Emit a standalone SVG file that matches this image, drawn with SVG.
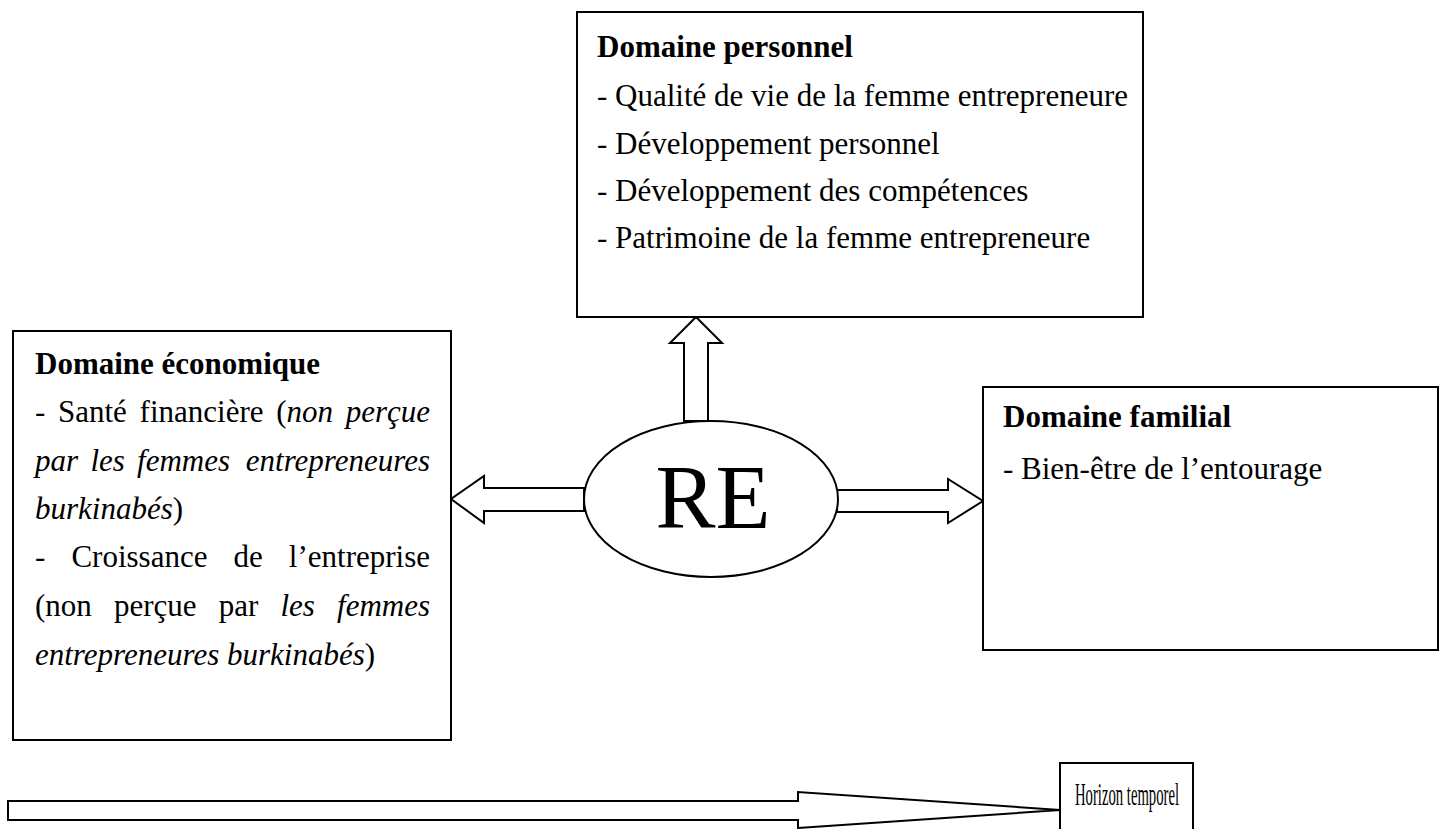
<svg xmlns="http://www.w3.org/2000/svg" width="1440" height="829" viewBox="0 0 1440 829">
<style>
  .box { fill: #fff; stroke: #000; stroke-width: 2; }
  .arr { fill: #fff; stroke: #000; stroke-width: 2; stroke-linejoin: miter; }
  text { font-family: "Liberation Serif", "Times New Roman", serif; font-size: 31px; fill: #000; }
  .b { font-weight: bold; }
  .i { font-style: italic; }
</style>
<rect width="1440" height="829" fill="#fff"/>
<g id="connectors">
  <polygon class="arr" points="684,421 684,343 670,343 696,317 722,343 708,343 708,421"/>
  <polygon class="arr" points="584,488 484,488 484,476 451,499 484,523 484,511 584,511"/>
  <polygon class="arr" points="837,490 948,490 948,479 983,501 948,523 948,512 837,512"/>
  <polygon class="arr" points="8,801 798,801 798,792 1060,810 798,828 798,820 8,820"/>
</g>
<g id="personnel">
  <rect class="box" x="577" y="12" width="566" height="305"/>
  <text class="b" x="597" y="57">Domaine personnel</text>
  <text x="597" y="106">- Qualité de vie de la femme entrepreneure</text>
  <text x="597" y="154">- Développement personnel</text>
  <text x="597" y="201">- Développement des compétences</text>
  <text x="597" y="248">- Patrimoine de la femme entrepreneure</text>
</g>
<g id="economique">
  <rect class="box" x="13" y="331" width="438" height="409"/>
  <text class="b" x="35" y="374">Domaine économique</text>
  <text y="422"><tspan x="35">-</tspan><tspan x="58">Santé</tspan><tspan x="139.6">financière</tspan><tspan x="276.2">(</tspan><tspan class="i">non</tspan></text>
  <text class="i" x="430" y="422" text-anchor="end">perçue</text>
  <text class="i" y="471"><tspan x="35">par</tspan><tspan x="90.4">les</tspan><tspan x="137.1">femmes</tspan></text>
  <text class="i" x="430" y="471" text-anchor="end">entrepreneures</text>
  <text x="35" y="519"><tspan class="i">burkinabés</tspan>)</text>
  <text y="567"><tspan x="35">-</tspan><tspan x="71.4">Croissance</tspan><tspan x="233.5">de</tspan></text>
  <text x="430" y="567" text-anchor="end">l’entreprise</text>
  <text y="616"><tspan x="35">(non</tspan><tspan x="114">perçue</tspan><tspan x="218.7">par</tspan><tspan class="i" x="280.5">les</tspan></text>
  <text class="i" x="430" y="616" text-anchor="end">femmes</text>
  <text x="35" y="665"><tspan class="i">entrepreneures burkinabés</tspan>)</text>
</g>
<g id="familial">
  <rect class="box" x="983" y="387" width="455" height="263"/>
  <text class="b" x="1003" y="427">Domaine familial</text>
  <text x="1003" y="479">- Bien-être de l’entourage</text>
</g>
<g id="re">
  <ellipse class="box" cx="711" cy="499" rx="127" ry="78"/>
  <text x="713" y="528" text-anchor="middle" style="font-size:90px">RE</text>
</g>
<g id="horizon">
  <path class="box" d="M1060,829 V763 H1193 V829"/>
  <text x="1075" y="805" style="font-size:31px" textLength="104" lengthAdjust="spacingAndGlyphs">Horizon temporel</text>
</g>
</svg>
